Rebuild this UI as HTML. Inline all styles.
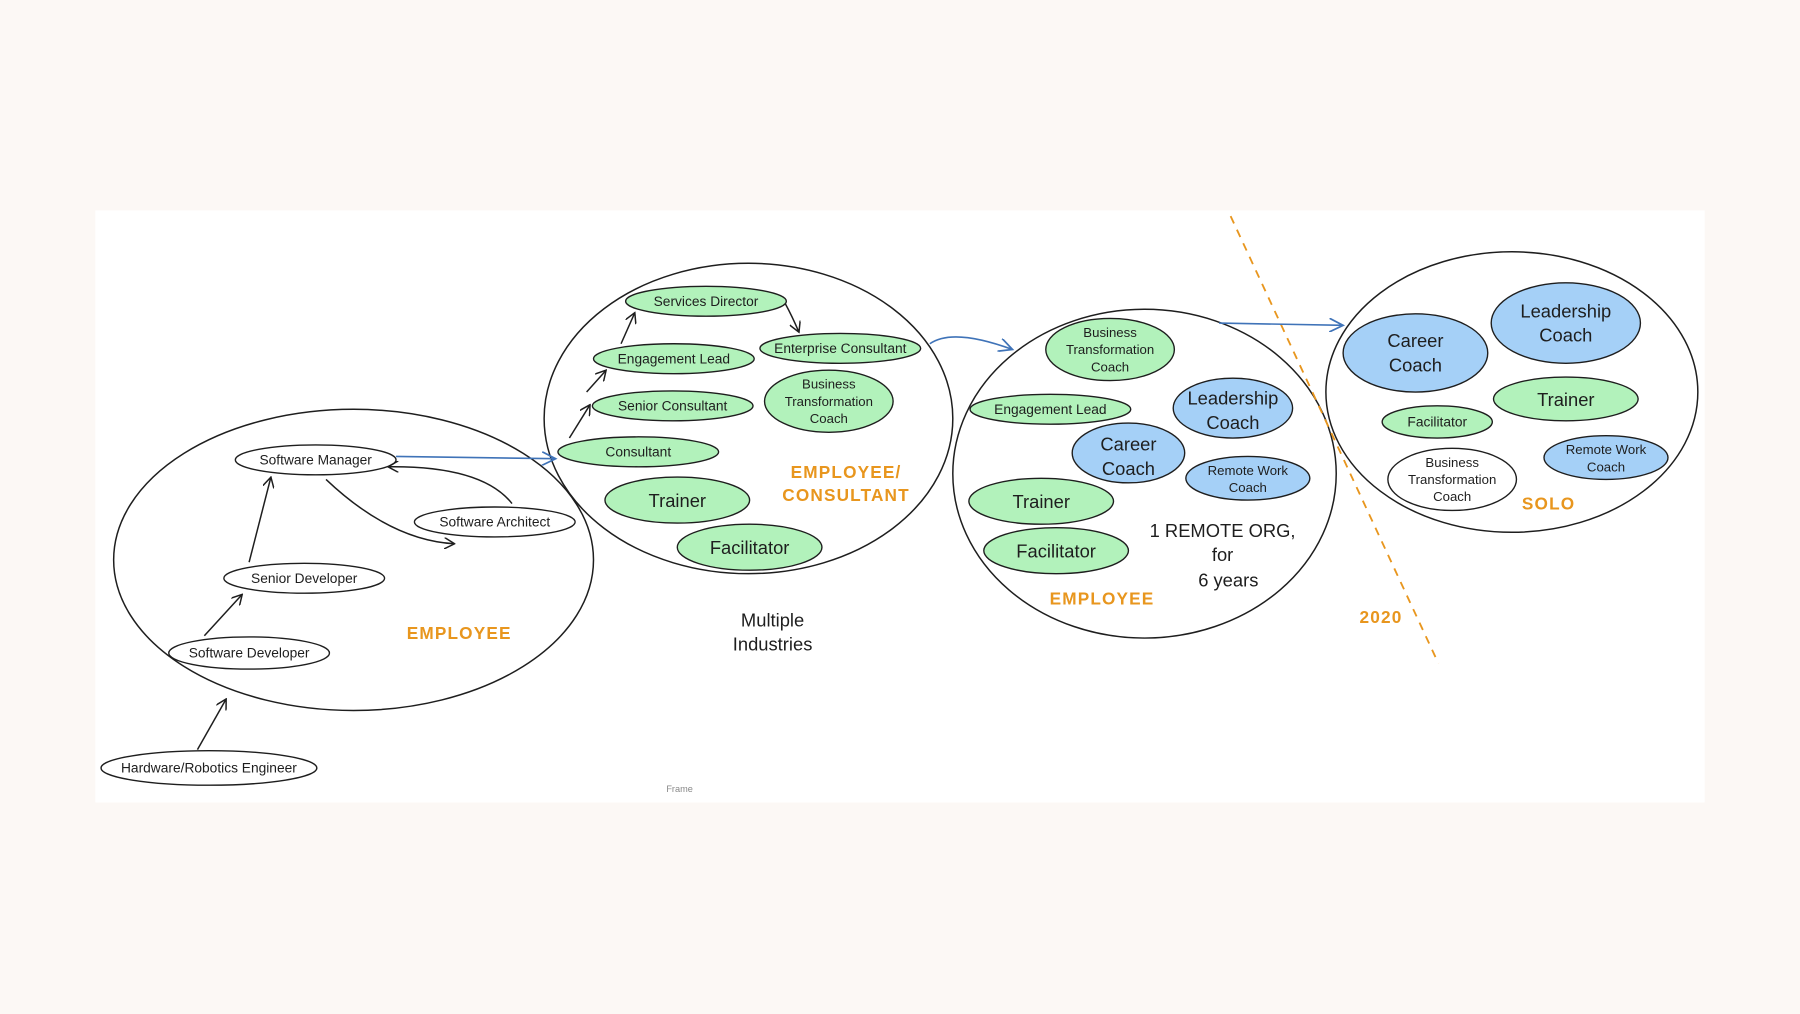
<!DOCTYPE html>
<html><head><meta charset="utf-8"><style>
html,body{margin:0;padding:0;background:#fcf8f5;}
svg{display:block;}
text{font-family:"Liberation Sans",sans-serif;text-anchor:middle;fill:#1e1e1e;}
.o{fill:#e8961e;font-weight:bold;letter-spacing:1px;}
</style></head><body>
<svg width="1800" height="1014" viewBox="0 0 1568 882" preserveAspectRatio="none" xmlns="http://www.w3.org/2000/svg">
<defs>
<marker id="ab" markerWidth="10" markerHeight="10" refX="9" refY="5" orient="auto" markerUnits="userSpaceOnUse"><path d="M0,0 L9,5 L0,10" fill="none" stroke="#1e1e1e" stroke-width="1.3"/></marker>
<marker id="au" markerWidth="14" markerHeight="12" refX="12" refY="6" orient="auto" markerUnits="userSpaceOnUse"><path d="M0,0 L12,6 L0,12" fill="none" stroke="#3f73b8" stroke-width="1.5"/></marker>
</defs>
<rect x="0" y="0" width="1568" height="882" fill="#fcf8f5"/>
<rect x="83" y="183" width="1402" height="515" fill="#ffffff"/>
<text x="592" y="689" font-size="8" fill="#888" style="fill:#888">Frame</text>
<g fill="none" stroke="#1e1e1e" stroke-width="1.3">
<ellipse cx="308" cy="487" rx="209" ry="131"/>
<ellipse cx="652" cy="364" rx="178" ry="135"/>
<ellipse cx="997" cy="412" rx="167" ry="143"/>
<ellipse cx="1317" cy="341" rx="162" ry="122"/>
</g>
<line x1="1072" y1="188" x2="1253" y2="577" stroke="#e8961e" stroke-width="1.6" stroke-dasharray="7,6"/>
<g stroke="#1e1e1e" stroke-width="1.2" fill="#fff">
<ellipse cx="275" cy="400" rx="70" ry="13"/>
<ellipse cx="431" cy="454" rx="70" ry="13"/>
<ellipse cx="265" cy="503" rx="70" ry="13"/>
<ellipse cx="217" cy="568" rx="70" ry="14"/>
<ellipse cx="182" cy="668" rx="94" ry="15"/>
<ellipse cx="1265" cy="417" rx="56" ry="27"/>
</g>
<g stroke="#1e1e1e" stroke-width="1.2" fill="#b2f2bb">
<ellipse cx="615" cy="262" rx="70" ry="13"/>
<ellipse cx="587" cy="312" rx="70" ry="13"/>
<ellipse cx="732" cy="303" rx="70" ry="13"/>
<ellipse cx="722" cy="349" rx="56" ry="27"/>
<ellipse cx="586" cy="353" rx="70" ry="13"/>
<ellipse cx="556" cy="393" rx="70" ry="13"/>
<ellipse cx="590" cy="435" rx="63" ry="20"/>
<ellipse cx="653" cy="476" rx="63" ry="20"/>
<ellipse cx="967" cy="304" rx="56" ry="27"/>
<ellipse cx="915" cy="356" rx="70" ry="13"/>
<ellipse cx="907" cy="436" rx="63" ry="20"/>
<ellipse cx="920" cy="479" rx="63" ry="20"/>
<ellipse cx="1364" cy="347" rx="63" ry="19"/>
<ellipse cx="1252" cy="367" rx="48" ry="14"/>
</g>
<g stroke="#1e1e1e" stroke-width="1.2" fill="#a5d0f7">
<ellipse cx="1074" cy="355" rx="52" ry="26"/>
<ellipse cx="983" cy="394" rx="49" ry="26"/>
<ellipse cx="1087" cy="416" rx="54" ry="19"/>
<ellipse cx="1364" cy="281" rx="65" ry="35"/>
<ellipse cx="1233" cy="307" rx="63" ry="34"/>
<ellipse cx="1399" cy="398" rx="54" ry="19"/>
</g>
<g stroke="#1e1e1e" stroke-width="1.3" fill="none" marker-end="url(#ab)">
<line x1="172" y1="652" x2="197" y2="608"/>
<line x1="178" y1="553" x2="211" y2="517"/>
<line x1="217" y1="489" x2="236" y2="415"/>
<path d="M284,417 Q340,470 396,473"/>
<path d="M446,438 Q420,405 338,406"/>
<line x1="496" y1="381" x2="514" y2="352"/>
<line x1="511" y1="341" x2="528" y2="322"/>
<line x1="541" y1="299" x2="553" y2="272"/>
<path d="M684,264 Q690,275 696,289"/>
</g>
<g stroke="#3f73b8" stroke-width="1.4" fill="none" marker-end="url(#au)">
<path d="M345,397 L484,399"/>
<path d="M810,299 Q830,285 882,304"/>
<path d="M1062,281 L1170,283"/>
</g>
<g font-size="12">
<text x="275" y="404">Software Manager</text>
<text x="431" y="458">Software Architect</text>
<text x="265" y="507">Senior Developer</text>
<text x="217" y="572">Software Developer</text>
<text x="182" y="672">Hardware/Robotics Engineer</text>
<text x="615" y="266">Services Director</text>
<text x="587" y="316">Engagement Lead</text>
<text x="732" y="307">Enterprise Consultant</text>
<text x="586" y="357">Senior Consultant</text>
<text x="556" y="397">Consultant</text>
<text x="915" y="360">Engagement Lead</text>
<text x="1252" y="371">Facilitator</text>
</g>
<g font-size="11.5">
<text x="722" y="338">Business</text><text x="722" y="353">Transformation</text><text x="722" y="368">Coach</text>
<text x="967" y="293">Business</text><text x="967" y="308">Transformation</text><text x="967" y="323">Coach</text>
<text x="1265" y="406">Business</text><text x="1265" y="421">Transformation</text><text x="1265" y="436">Coach</text>
<text x="1087" y="413">Remote Work</text><text x="1087" y="428">Coach</text>
<text x="1399" y="395">Remote Work</text><text x="1399" y="410">Coach</text>
</g>
<g font-size="16">
<text x="590" y="441">Trainer</text>
<text x="653" y="482">Facilitator</text>
<text x="907" y="442">Trainer</text>
<text x="920" y="485">Facilitator</text>
<text x="1364" y="353">Trainer</text>
<text x="1074" y="352">Leadership</text><text x="1074" y="373">Coach</text>
<text x="983" y="392">Career</text><text x="983" y="413">Coach</text>
<text x="1364" y="276">Leadership</text><text x="1364" y="297">Coach</text>
<text x="1233" y="302">Career</text><text x="1233" y="323">Coach</text>
<text x="673" y="545">Multiple</text><text x="673" y="566">Industries</text>
<text x="1065" y="467">1 REMOTE ORG,</text><text x="1065" y="488">for</text><text x="1070" y="510">6 years</text>
</g>
<g font-size="15" class="o">
<text class="o" x="400" y="556">EMPLOYEE</text>
<text class="o" x="737" y="416">EMPLOYEE/</text>
<text class="o" x="737" y="436">CONSULTANT</text>
<text class="o" x="960" y="526">EMPLOYEE</text>
<text class="o" x="1349" y="443">SOLO</text>
<text class="o" x="1203" y="542">2020</text>
</g>
</svg>
</body></html>
